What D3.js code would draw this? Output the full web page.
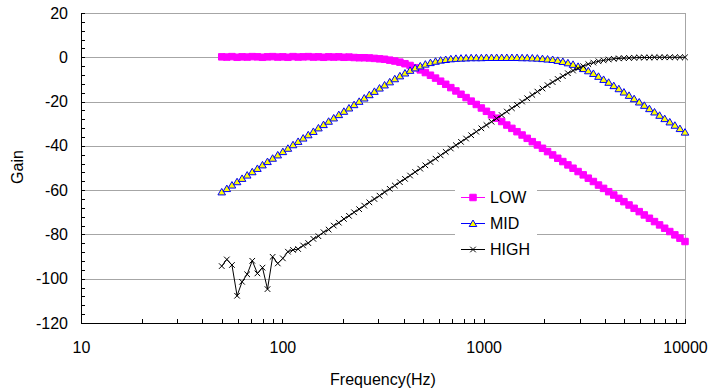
<!DOCTYPE html>
<meta charset="utf-8">
<style>

body {
  margin: 0;
  background: #fff;
}

svg {
  display: block;
  font-family: "Liberation Sans", Arial, sans-serif;
}

.grid line {
  stroke: #a6a6a6;
  stroke-width: 1px;
}

.axis text {
  font-size: 16px;
  fill: #000;
}

.axis path,
.axis line {
  stroke: #000;
  shape-rendering: crispEdges;
}

.legend text {
  font-size: 16px;
}

</style>
<body>

<script src="https://d3js.org/d3.v7.min.js"></script>

<script>

// sweep frequencies (Hz)
var freq = [50, 53.0, 56.2, 59.6, 63.1, 66.9, 70.9, 75.2, 79.7, 84.4,
  89.5, 94.9, 100.6, 106.6, 113.0, 119.8, 126.9, 134.5, 142.6, 151.1,
  160.2, 169.8, 180.0, 190.8, 202.2, 214.3, 227.2, 240.8, 255.2, 270.5,
  286.7, 303.9, 322.1, 341.5, 361.9, 383.6, 406.6, 431.0, 456.8, 484.3,
  513.3, 544.1, 576.7, 611.3, 647.9, 686.8, 728.0, 771.6, 817.9, 866.9,
  918.9, 974.0, 1032, 1094, 1160, 1229, 1303, 1381, 1464, 1552,
  1645, 1744, 1848, 1959, 2077, 2201, 2333, 2473, 2621, 2779,
  2945, 3122, 3309, 3507, 3718, 3941, 4177, 4428, 4693, 4974,
  5273, 5589, 5924, 6279, 6656, 7055, 7478, 7926, 8402, 8905,
  9439, 10000];

// gain (dB) for each band
var lowGain = [0.2, 0.1, 0.3, 0.0, 0.2, 0.1, 0.3, 0.2, 0.0, 0.2,
  0.3, 0.1, 0.2, 0.0, 0.3, 0.1, 0.2, 0.3, 0.1, 0.2,
  0.0, 0.2, 0.1, 0.2, 0.0, 0.1, -0.1, -0.2, -0.2, -0.3,
  -0.5, -0.7, -0.9, -1.3, -1.7, -2.2, -2.9, -3.7, -4.7, -5.7,
  -6.9, -8.1, -9.4, -10.8, -12.2, -13.7, -15.2, -16.7, -18.2, -19.8,
  -21.3, -22.9, -24.4, -26.0, -27.5, -29.0, -30.6, -32.1, -33.6, -35.1,
  -36.6, -38.1, -39.6, -41.1, -42.6, -44.1, -45.6, -47.1, -48.6, -50.1,
  -51.6, -53.1, -54.6, -56.1, -57.7, -59.2, -60.7, -62.2, -63.7, -65.2,
  -66.7, -68.2, -69.7, -71.2, -72.7, -74.2, -75.7, -77.2, -78.7, -80.2,
  -81.7, -83.2];

var midGain = [-60.8, -59.3, -57.7, -56.2, -54.7, -53.2, -51.7, -50.2, -48.6, -47.1,
  -45.6, -44.1, -42.6, -41.1, -39.5, -38.0, -36.5, -35.0, -33.5, -31.9,
  -30.4, -28.9, -27.4, -25.9, -24.4, -22.9, -21.4, -19.9, -18.4, -16.9,
  -15.4, -13.9, -12.5, -11.1, -9.7, -8.4, -7.1, -5.9, -4.8, -3.9,
  -3.1, -2.4, -1.8, -1.3, -1.0, -0.7, -0.5, -0.4, -0.3, -0.2,
  -0.2, -0.2, -0.1, -0.1, -0.1, -0.1, -0.1, -0.1, -0.1, -0.2,
  -0.2, -0.3, -0.4, -0.6, -0.8, -1.0, -1.4, -1.9, -2.5, -3.2,
  -4.1, -5.1, -6.1, -7.3, -8.6, -10.0, -11.3, -12.8, -14.2, -15.7,
  -17.2, -18.7, -20.2, -21.7, -23.2, -24.7, -26.2, -27.7, -29.2, -30.7,
  -32.2, -33.8];

var highGain = [-94.3, -91.3, -93.8, -107.7, -101.4, -98.0, -91.9, -97.6, -95.0, -104.7,
  -90.1, -93.1, -90.8, -87.8, -87.0, -86.6, -85.0, -83.9, -82.0, -80.8,
  -79.0, -77.8, -76.0, -74.7, -73.0, -71.6, -70.0, -68.6, -67.0, -65.5,
  -64.0, -62.5, -60.9, -59.4, -57.9, -56.4, -54.9, -53.4, -51.8, -50.3,
  -48.8, -47.3, -45.8, -44.3, -42.7, -41.2, -39.7, -38.2, -36.7, -35.2,
  -33.6, -32.1, -30.6, -29.1, -27.6, -26.1, -24.5, -23.0, -21.5, -20.0,
  -18.5, -17.0, -15.5, -14.1, -12.6, -11.2, -9.8, -8.5, -7.2, -6.0,
  -5.0, -4.0, -3.1, -2.4, -1.8, -1.4, -1.0, -0.7, -0.5, -0.4,
  -0.3, -0.2, -0.1, -0.1, -0.1, 0.0, 0.0, 0.0, 0.0, 0.0,
  0.0, 0.0];

var xTicks = [10, 100, 1000, 10000];
var yTicks = [-120, -100, -80, -60, -40, -20, 0, 20];
var seriesNames = ["LOW", "MID", "HIGH"];

var plotLeft = 81, plotRight = 685, plotTop = 13, plotBottom = 323;

var svg = d3.select("body").append("svg")
    .attr("width", 714)
    .attr("height", 392);

var x = d3.scaleLog().domain([10, 10000]).range([plotLeft, plotRight]);
var y = d3.scaleLinear().domain([-120, 20]).range([plotBottom, plotTop]);

// horizontal gridlines
svg.append("g")
    .attr("class", "grid")
    .selectAll("line")
    .data(yTicks.filter(d => d > -120))
    .enter().append("line")
    .attr("x1", plotLeft)
    .attr("x2", plotRight)
    .attr("y1", d => Math.round(y(d)) + 0.5)
    .attr("y2", d => Math.round(y(d)) + 0.5);

// right border of plot area
svg.append("line")
    .attr("x1", plotRight + 0.5).attr("x2", plotRight + 0.5)
    .attr("y1", plotTop).attr("y2", plotBottom)
    .attr("stroke", "#a6a6a6");

// minor ticks, pointing into the plot
var yMinor = d3.range(-120, 21, 4);
svg.append("g")
    .attr("class", "axis")
    .attr("transform", "translate(" + plotLeft + ",0)")
    .call(d3.axisLeft(y).tickValues(yMinor).tickSize(-4).tickSizeOuter(0).tickFormat(""));

var xMinor = [];
[10, 100, 1000].forEach(function(p) {
  for (var k = 1; k < 10; k++) xMinor.push(p * k);
});
xMinor.push(10000);
svg.append("g")
    .attr("class", "axis")
    .attr("transform", "translate(0," + plotBottom + ")")
    .call(d3.axisBottom(x).tickValues(xMinor).tickSize(-4).tickSizeOuter(0).tickFormat(""));

// labels (plain hyphen for negatives)
var yAxis = svg.append("g")
    .attr("class", "axis")
    .attr("transform", "translate(" + plotLeft + ",0)")
    .call(d3.axisLeft(y).tickValues(yTicks).tickSize(0).tickPadding(13).tickFormat(d => String(d)));
yAxis.select(".domain").remove();

var xAxis = svg.append("g")
    .attr("class", "axis")
    .attr("transform", "translate(0," + plotBottom + ")")
    .call(d3.axisBottom(x).tickValues(xTicks).tickSize(0).tickPadding(19).tickFormat(d => String(d)));
xAxis.select(".domain").remove();

svg.append("text")
    .attr("x", (plotLeft + plotRight) / 2)
    .attr("y", 385)
    .attr("text-anchor", "middle")
    .style("font-size", "16px")
    .text("Frequency(Hz)");

svg.append("text")
    .attr("transform", "translate(23,167) rotate(-90)")
    .attr("text-anchor", "middle")
    .style("font-size", "16px")
    .text("Gain");

// series
var square = d3.symbol().type(d3.symbolSquare).size(42);
var triangle = "M0,-3.5L3.8,3L-3.8,3Z";
var cross = "M-2.8,-2.8L2.8,2.8M-2.8,2.8L2.8,-2.8";

var styles = {
  LOW: {color: "#ff00ff", marker: function(g) {
    g.append("path").attr("d", square()).attr("fill", "#ff00ff").attr("stroke", "#ff00ff");
  }},
  MID: {color: "#0000ff", marker: function(g) {
    g.append("path").attr("d", triangle).attr("fill", "#ffff00").attr("stroke", "#0000ff");
  }},
  HIGH: {color: "#000000", marker: function(g) {
    g.append("path").attr("d", cross).attr("fill", "none").attr("stroke", "#000");
  }}
};

var gains = {LOW: lowGain, MID: midGain, HIGH: highGain};

var line = d3.line()
    .x(d => x(d[0]))
    .y(d => y(d[1]));

seriesNames.forEach(function(name) {
  var pts = freq.map((f, i) => [f, gains[name][i]]);
  var st = styles[name];
  svg.append("path")
      .datum(pts)
      .attr("fill", "none")
      .attr("stroke", st.color)
      .attr("stroke-width", 1)
      .attr("d", line);
  svg.append("g")
      .selectAll("g")
      .data(pts)
      .enter().append("g")
      .attr("transform", d => "translate(" + x(d[0]) + "," + y(d[1]) + ")")
      .each(function() { st.marker(d3.select(this)); });
});

// axis lines on top
svg.append("line")
    .attr("x1", plotLeft + 0.5).attr("x2", plotLeft + 0.5)
    .attr("y1", plotTop).attr("y2", plotBottom + 0.5)
    .attr("stroke", "#000");
svg.append("line")
    .attr("x1", plotLeft).attr("x2", plotRight + 1)
    .attr("y1", plotBottom + 0.5).attr("y2", plotBottom + 0.5)
    .attr("stroke", "#000");

// legend
var legend = svg.append("g")
    .attr("class", "legend")
    .attr("transform", "translate(455,184)");

legend.append("rect")
    .attr("width", 82)
    .attr("height", 78)
    .attr("fill", "#fff");

seriesNames.forEach(function(name, i) {
  var row = legend.append("g")
      .attr("transform", "translate(0," + (13 + i * 26) + ")");
  row.append("line")
      .attr("x1", 6).attr("x2", 30)
      .attr("y1", 0.5).attr("y2", 0.5)
      .attr("stroke", styles[name].color);
  var m = row.append("g").attr("transform", "translate(18,0.5)");
  styles[name].marker(m);
  row.append("text")
      .attr("x", 35)
      .attr("y", 6)
      .text(name);
});

</script>
</body>
